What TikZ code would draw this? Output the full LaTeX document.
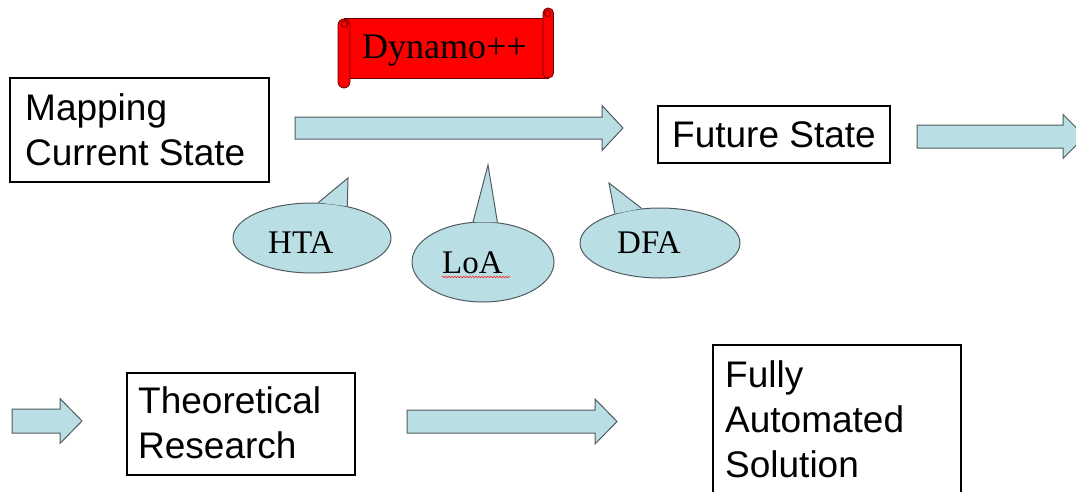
\documentclass[tikz,border=0pt]{standalone}
\usepackage{fontspec}
\setmainfont{Liberation Serif}
\newfontfamily\arialf{Liberation Sans}
\usetikzlibrary{shapes.geometric,decorations.pathmorphing}

\definecolor{paleteal}{RGB}{185,222,227}
\definecolor{tealedge}{RGB}{80,92,96}
\definecolor{scrollred}{RGB}{255,0,0}
\definecolor{scrolledge}{RGB}{100,0,0}

\tikzset{
  box/.style={draw=black, line width=2.5pt, fill=white, inner sep=0pt},
  boxtext/.style={anchor=base west, inner sep=0pt, font=\arialf\fontsize{37}{45}\selectfont},
  blockarrow/.style={fill=paleteal, draw=tealedge, line width=1pt, line join=miter},
  bubble/.style={ellipse, fill=paleteal, draw=tealedge, line width=1pt, inner sep=0pt},
  bubbletext/.style={anchor=base west, inner sep=0pt, font=\fontsize{33}{40}\selectfont},
  pointerfill/.style={fill=paleteal},
  pointeredge/.style={draw=tealedge, line width=1pt, line join=miter},
  scrollpart/.style={fill=scrollred, draw=scrolledge, line width=0.8pt},
}

% block arrow: left x, head base x, tip x, centre y, body half height, head half height
\newcommand\blockarr[6]{%
  \filldraw[blockarrow] (#1,#4-#5) -- (#2,#4-#5) -- (#2,#4-#6) -- (#3,#4)
    -- (#2,#4+#6) -- (#2,#4+#5) -- (#1,#4+#5) -- cycle;}

\begin{document}
\begin{tikzpicture}[x=1pt,y=-1pt]
\useasboundingbox (0,0) rectangle (1076,491);
\fill[white] (0,0) rectangle (1076,491);
\clip (0,0) rectangle (1076,491);

% ---- boxes ----
\node[box, minimum width=259pt, minimum height=104pt] (map) at (139.5,130) {};
\node[boxtext] (map1) at (25,120) {Mapping};
\node[boxtext] (map2) at (25,165) {Current State};

\node[box, minimum width=232pt, minimum height=57pt] (future) at (774,134.5) {};
\node[boxtext] (future1) at (672,147.5) {Future State};

\node[box, minimum width=228pt, minimum height=102pt] (theory) at (241,424) {};
\node[boxtext] (theory1) at (138,413) {Theoretical};
\node[boxtext] (theory2) at (138,458) {Research};

\node[box, minimum width=248pt, minimum height=175pt] (fully) at (837,432.5) {};
\node[boxtext] (fully1) at (725,387) {Fully};
\node[boxtext] (fully2) at (725,432) {Automated};
\node[boxtext] (fully3) at (725,477) {Solution};

% ---- block arrows ----
\blockarr{295}{602}{623}{128}{11}{22.5}
\blockarr{917}{1063}{1085}{136.5}{11.5}{22}
\blockarr{12}{60}{82}{421}{12}{22.5}
\blockarr{407}{595}{617}{421.5}{11.5}{22.5}

% ---- scroll banner ----
\filldraw[scrollpart] (344,18) rectangle (548,78);
\filldraw[scrollpart, rounded corners=5pt] (543,8) rectangle (553.5,78);
\draw[scrolledge, line width=0.8pt] (547.5,13.5) circle (3);
\filldraw[scrollpart, rounded corners=6pt] (338,19) rectangle (350,88);
\draw[scrolledge, line width=0.8pt] (344.5,24) circle (3.2);
\node[anchor=base west, inner sep=0pt, font=\fontsize{36}{40}\selectfont] (dyn) at (362,58) {Dynamo++};

% ---- speech bubbles ----
\node[bubble, minimum width=158pt, minimum height=70pt] (hta) at (312,238) {};
\coordinate (htatip) at (348,178);
\fill[pointerfill] (hta.80) -- (htatip) -- (hta.42) -- cycle;
\draw[pointeredge] (hta.80) -- (htatip) -- (hta.42);
\node[bubbletext] (htatext) at (268,253) {HTA};

\node[bubble, minimum width=142pt, minimum height=80pt] (loa) at (483,262) {};
\coordinate (loatip) at (488,165);
\fill[pointerfill] (loa.104) -- (loatip) -- (loa.70) -- cycle;
\draw[pointeredge] (loa.104) -- (loatip) -- (loa.70);
\node[bubbletext] (loatext) at (442,273) {LoA};
\draw[red!85!white, line width=0.6pt, decorate,
      decoration={snake, amplitude=0.8pt, segment length=3pt}] (loatext.base west) ++(0,4) -- ++(68,0);

\node[bubble, minimum width=160pt, minimum height=70pt] (dfa) at (660,243) {};
\coordinate (dfatip) at (609,183);
\fill[pointerfill] (dfa.147) -- (dfatip) -- (dfa.118) -- cycle;
\draw[pointeredge] (dfa.147) -- (dfatip) -- (dfa.118);
\node[bubbletext] (dfatext) at (617,253) {DFA};
\end{tikzpicture}
\end{document}
